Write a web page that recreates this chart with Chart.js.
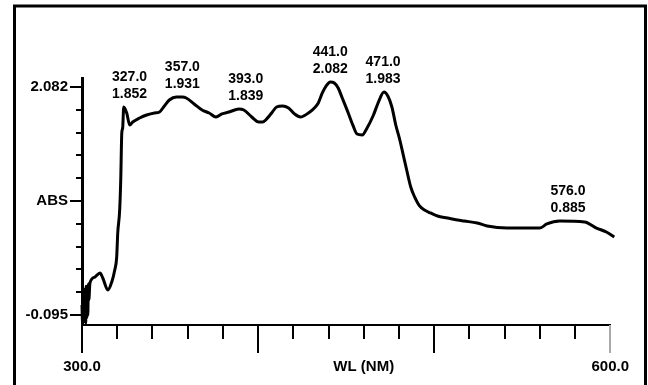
<!DOCTYPE html>
<html><head><meta charset="utf-8">
<script src="https://cdn.jsdelivr.net/npm/chart.js@4.4.1/dist/chart.umd.min.js"></script>
<style>html,body{margin:0;padding:0;background:#fff;}#wrap{width:648px;height:385px;position:relative;}</style>
</head><body><div id="wrap"><canvas id="c" width="648" height="385"></canvas></div>
<script>
// Spectrum (wavelength nm, absorbance)
const wavelengths = [300.0,300.3,300.6,300.9,301.2,301.5,301.8,302.1,302.4,302.7,303.0,303.3,303.6,303.9,304.5,307.3,310.2,311.8,314.7,316.9,318.6,319.7,320.3,321.4,322.0,322.6,323.1,323.7,325.4,327.1,328.8,332.7,336.7,341.2,344.0,346.8,349.6,353.6,357.0,359.2,363.7,368.2,372.2,376.1,379.5,383.5,389.1,391.9,396.4,400.4,402.6,404.9,407.7,410.5,413.9,417.3,420.7,424.1,428.6,432.0,434.2,436.5,438.7,441.0,443.3,445.5,447.8,451.2,454.0,456.2,459.1,461.9,465.3,468.6,471.5,473.7,476.0,478.2,480.5,482.7,484.4,486.7,488.9,491.7,494.5,497.9,501.9,507.6,513.2,517.1,524.5,530.1,541.4,560.0,564.0,571.3,585.4,592.2,597.8,602.3];
const absorbance = [0.000,-0.172,0.124,-0.160,0.150,-0.143,0.086,-0.170,0.180,-0.124,0.181,-0.100,0.200,0.050,0.210,0.267,0.306,0.258,0.143,0.220,0.334,0.458,0.688,0.907,1.194,1.643,1.691,1.891,1.834,1.719,1.748,1.786,1.815,1.834,1.843,1.901,1.958,1.987,1.987,1.977,1.920,1.862,1.834,1.796,1.825,1.843,1.872,1.862,1.796,1.748,1.748,1.777,1.834,1.891,1.901,1.882,1.825,1.796,1.834,1.882,1.930,2.025,2.092,2.130,2.120,2.072,1.977,1.834,1.710,1.633,1.624,1.691,1.805,1.948,2.034,1.996,1.891,1.719,1.576,1.414,1.289,1.127,1.032,0.946,0.907,0.879,0.850,0.831,0.812,0.802,0.783,0.755,0.735,0.735,0.774,0.802,0.793,0.735,0.697,0.650];
// Peak annotations
const peakWavelengths = [327.0,357.0,393.0,441.0,471.0,576.0];
const peakAbsorbance = [1.852,1.931,1.839,2.082,1.983,0.885];
// Axis ticks
const yTickValues = [2.082,1.8643,1.6466,1.4289,1.2112,0.9935,0.7758,0.5581,0.3404,0.1227,-0.095];
const yTickLabels = ['2.082','','','','','ABS','','','','','-0.095'];
const xMajorTicks = [300,400,500,600];
const xLabelValues = [300,460,600];
const xLabelTexts = ['300.0','WL (NM)','600.0'];

const FONT = '"Liberation Sans", Arial, Helvetica, sans-serif';
Chart.defaults.font.family = FONT;
Chart.defaults.color = '#000';

const decor = {
  id: 'decor',
  beforeDraw(chart) {
    const ctx = chart.ctx;
    ctx.save();
    ctx.fillStyle = '#fff';
    ctx.fillRect(0, 0, chart.width, chart.height);
    ctx.strokeStyle = '#000';
    ctx.lineWidth = 3;
    ctx.strokeRect(14.5, 6, 631, 420);
    ctx.restore();
  },
  afterDraw(chart) {
    const xs = chart.scales.x, ys = chart.scales.y, ctx = chart.ctx, a = chart.chartArea;
    ctx.save();
    ctx.lineWidth = 2;
    xMajorTicks.forEach(v => {
      const px = Math.round(xs.getPixelForValue(v));
      ctx.strokeStyle = v === 600 ? '#aaa' : '#000';
      ctx.beginPath(); ctx.moveTo(px, a.bottom); ctx.lineTo(px, a.bottom + 28); ctx.stroke();
    });
    ctx.strokeStyle = '#000';
    yTickValues.forEach((v, i) => {
      if (!yTickLabels[i]) return;
      const py = Math.round(ys.getPixelForValue(v));
      ctx.beginPath(); ctx.moveTo(a.left, py); ctx.lineTo(a.left - 12, py); ctx.stroke();
    });
    ctx.font = 'bold 14px ' + FONT;
    ctx.fillStyle = '#000';
    ctx.textAlign = 'center';
    ctx.textBaseline = 'middle';
    peakWavelengths.forEach((w, i) => {
      let best = -Infinity;
      wavelengths.forEach((ww, j) => { if (Math.abs(ww - w) <= 5 && absorbance[j] > best) best = absorbance[j]; });
      const py = ys.getPixelForValue(best);
      const px = xs.getPixelForValue(w);
      ctx.fillText(w.toFixed(1), px, py - 29.5);
      ctx.fillText(peakAbsorbance[i].toFixed(3), px, py - 13);
    });
    ctx.restore();
  }
};

new Chart(document.getElementById('c'), {
  type: 'line',
  data: {
    datasets: [{
      data: wavelengths.map((w, i) => ({x: w, y: absorbance[i]})),
      borderColor: '#000',
      borderWidth: 3,
      pointRadius: 0,
      cubicInterpolationMode: 'monotone',
      clip: false
    }]
  },
  options: {
    responsive: false,
    animation: false,
    devicePixelRatio: 1,
    layout: {padding: {top: 78, right: 34, left: 0, bottom: 0}},
    plugins: {legend: {display: false}, tooltip: {enabled: false}},
    scales: {
      x: {
        type: 'linear', min: 300, max: 600,
        afterFit(s) { s.height = 60; },
        grid: {display: true, drawOnChartArea: false, drawTicks: true, tickLength: 14, color: '#000', lineWidth: 2},
        border: {display: true, color: '#000', width: 2},
        ticks: {
          stepSize: 20, autoSkip: false, maxRotation: 0, padding: 19,
          font: {size: 15, weight: 'bold'},
          callback(v) { const k = xLabelValues.indexOf(v); return k >= 0 ? xLabelTexts[k] : ''; }
        },
        afterBuildTicks(s) {
          const t = [];
          for (let v = 300; v <= 600; v += 20) t.push({value: v});
          s.ticks = t;
        }
      },
      y: {
        type: 'linear', min: -0.191, max: 2.168,
        afterFit(s) { s.width = 82; },
        afterBuildTicks(s) { s.ticks = yTickValues.slice().sort((p, q) => p - q).map(v => ({value: v})); },
        grid: {display: true, drawOnChartArea: false, drawTicks: true, tickLength: 6, color: '#000', lineWidth: 2},
        border: {display: true, color: '#000', width: 3},
        ticks: {
          padding: 8, font: {size: 15, weight: 'bold'},
          callback(v) { const k = yTickValues.findIndex(t => Math.abs(t - v) < 1e-6); return k >= 0 ? yTickLabels[k] : ''; }
        }
      }
    }
  },
  plugins: [decor]
});
</script></body></html>
